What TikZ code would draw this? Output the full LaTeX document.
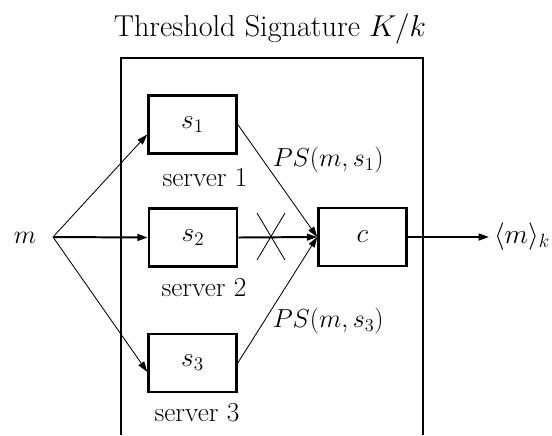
\RequirePackage{fix-cm}
\documentclass[tikz,border=0pt]{standalone}
\usetikzlibrary{arrows.meta,positioning}
\begin{document}
\begin{tikzpicture}
[
    x=0.025cm, y=-0.025cm,
    every node/.style={font=\fontsize{19.5}{23}\selectfont},
    server/.style={draw,line width=1.8pt,minimum width=2.2cm,minimum height=1.45cm,inner sep=0pt},
    sig/.style={font=\fontsize{18.5}{22}\selectfont},
    edge/.style={line width=0.6pt,-{Triangle[length=2.6mm,width=1.7mm]}},
    main/.style={line width=1.4pt,-{Triangle[length=2.6mm,width=1.7mm]}}
  ]
  \useasboundingbox (0,0) rectangle (552,435);

  % outer frame, open at the bottom
  \draw[line width=1.4pt] (121,435) -- (121,58) -- (423,58) -- (423,435);
  \node (title) at (270,29) {\fontsize{21.5}{25}\selectfont Threshold Signature $K/k$};

  \node[sig] (m) at (25,238) {$m$};
  \coordinate (fan) at (53,237);

  \node[server] (s1) at (192.5,124.5) {$s_1$};
  \node[server] (s2) at (193,237.5) {$s_2$};
  \node[server] (s3) at (192.5,363) {$s_3$};
  \node[server] (c) at (362.5,237) {$c$};

  \node (n1) at (205,178) {server 1};
  \node (n2) at (204,288) {server 2};
  \node (n3) at (197,413) {server 3};

  \node (out) at (522,237) {$\langle m\rangle_k$};

  % inputs
  \draw[edge] (fan) -- ([yshift=-0.25cm]s1.west);
  \draw[main] (fan) -- (s2.west);
  \draw[edge] (fan) -- ([yshift=-0.22cm]s3.west);

  % partial signatures
  \draw[edge] (s1.east) -- node[sig,above right=2pt and -7pt] (p1) {$PS(m,s_1)$} (c.west);
  \draw[main] (s2.east) -- (c.west);
  \draw[edge] (s3.east) -- node[sig,below right=2pt and -7pt] (p3) {$PS(m,s_3)$} (c.west);

  % lost signature
  \coordinate (x) at (271,237);
  \draw[line width=0.6pt] (257,213) -- (285,260);
  \draw[line width=0.6pt] (257,260) -- (285,213);

  \draw[main] (c.east) -- (out.west);
\end{tikzpicture}
\end{document}
